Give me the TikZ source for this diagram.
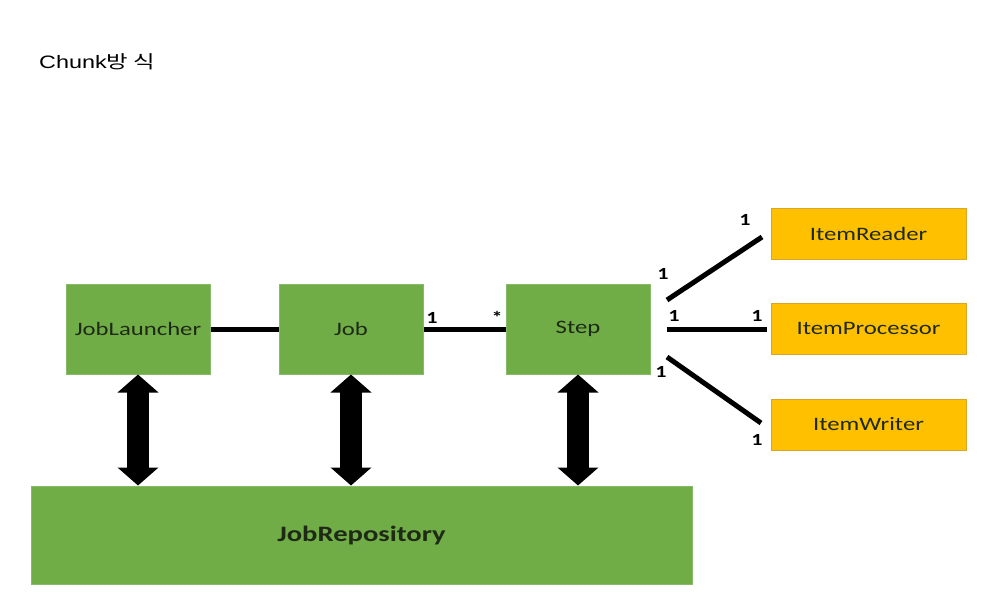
\documentclass[tikz,border=0pt]{standalone}
\usepackage{fontspec}
\usetikzlibrary{arrows.meta}
\setmainfont{Carlito}
\newfontfamily\boxfont[FakeStretch=1.3]{Carlito}
\newfontfamily\titlefont[FakeStretch=1.3]{Liberation Sans}
\newfontfamily\krfont[FakeStretch=1.3]{Noto Sans CJK KR}
\definecolor{boxgreen}{HTML}{70AD47}
\definecolor{edgegreen}{HTML}{86B968}
\definecolor{boxgold}{HTML}{FFC000}
\definecolor{edgegold}{HTML}{D9A62A}
\definecolor{inktext}{HTML}{1E2A16}
\tikzset{
  greenbox/.style={draw=edgegreen, line width=1pt, fill=boxgreen, inner sep=0pt,
    text=inktext, font=\boxfont\fontsize{19}{22}\selectfont},
  goldbox/.style={draw=edgegold, line width=1pt, fill=boxgold, inner sep=0pt,
    text=inktext, font=\boxfont\fontsize{19}{22}\selectfont},
  link/.style={line width=5pt, black},
  dblarrow/.style={line width=22pt, black,
    {Triangle[width=40pt,length=18pt]}-{Triangle[width=40pt,length=18pt]}},
  mult/.style={font=\boxfont\bfseries\fontsize{17}{19}\selectfont, inner sep=0pt}
}
\begin{document}
\begin{tikzpicture}[x=1pt,y=-1pt]
\useasboundingbox (0,0) rectangle (987,598);

% title
\node[anchor=west, inner sep=0pt] (title) at (39,62)
  {\titlefont\fontsize{18}{22}\selectfont Chunk\krfont 방 식};

% main components
\node[greenbox, minimum width=144pt, minimum height=90pt] (launcher) at (138,329) {JobLauncher};
\node[greenbox, minimum width=144pt, minimum height=90pt] (job) at (351,329) {Job};
\node[greenbox, minimum width=144pt, minimum height=90pt] (step) at (578,329) {Step};
\node[greenbox, minimum width=661pt, minimum height=98pt,
  font=\boxfont\bfseries\fontsize{22}{25}\selectfont] (repo) at (361.5,535) {JobRepository};

% chunk items
\node[goldbox, minimum width=195pt, minimum height=51pt] (reader) at (868.5,233.5) {ItemReader};
\node[goldbox, minimum width=195pt, minimum height=51pt] (processor) at (868.5,328.5) {ItemProcessor};
\node[goldbox, minimum width=195pt, minimum height=51pt] (writer) at (868.5,424.5) {ItemWriter};

% associations
\draw[link] (launcher.east) -- (job.west);
\draw[link] (job.east) -- (step.west);

% step-to-item links end short of the boxes
\coordinate (rdA) at (667,300);
\coordinate (rdB) at (762,237);
\coordinate (prA) at (667,329);
\coordinate (prB) at (767,329);
\coordinate (wrA) at (667,357);
\coordinate (wrB) at (761,423);
\draw[link] (rdA) -- (rdB);
\draw[link] (prA) -- (prB);
\draw[link] (wrA) -- (wrB);

% multiplicities
\node[mult] (m1) at (432,318) {1};
\node[mult] (m2) at (497,317) {*};
\node[mult] (m3) at (745,220) {1};
\node[mult] (m4) at (663,274) {1};
\node[mult] (m5) at (674,316) {1};
\node[mult] (m6) at (757,316) {1};
\node[mult] (m7) at (661,372) {1};
\node[mult] (m8) at (757,440) {1};

% repository access
\draw[dblarrow] (launcher.south) -- (launcher.south |- repo.north);
\draw[dblarrow] (job.south) -- (job.south |- repo.north);
\draw[dblarrow] (step.south) -- (step.south |- repo.north);
\end{tikzpicture}
\end{document}
